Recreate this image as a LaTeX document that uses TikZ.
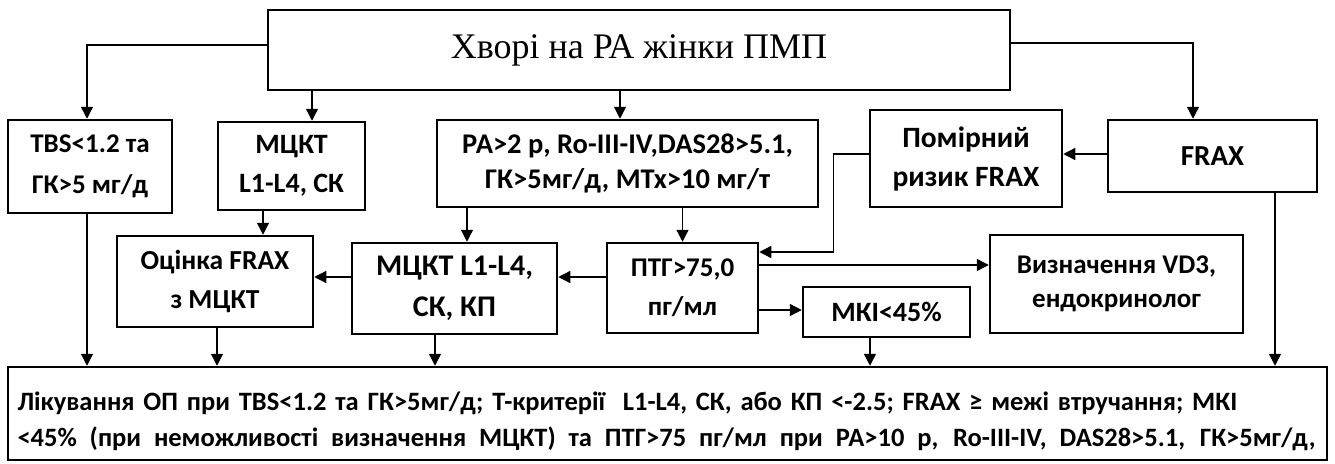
\documentclass[tikz,border=0pt]{standalone}
\usepackage{fontspec}
\setmainfont{Liberation Serif}
\newfontfamily\boxfont{Carlito}
\usetikzlibrary{arrows.meta}
\tikzset{
  box/.style={draw, line width=2.5pt, inner sep=0pt, align=center, font=\boxfont\bfseries\fontsize{28}{39}\selectfont},
  arr/.style={line width=1.3pt, -{Triangle[width=12pt,length=12pt]}}
}
\begin{document}
\begin{tikzpicture}[x=1pt,y=-1pt]
\useasboundingbox (0,0) rectangle (1335,463);
\node[box, minimum width=742pt, minimum height=80pt, font=\fontsize{36}{40}\selectfont] (top) at (639,50) {\raisebox{6pt}{Хворі на РА жінки ПМП}};
\node[box, minimum width=164pt, minimum height=93pt, font=\boxfont\bfseries\fontsize{27}{41}\selectfont] (tbs) at (90,166.5) {TBS<1.2 та\\ГК>5 мг/д};
\node[box, minimum width=147pt, minimum height=88pt] (mck1) at (291.5,166) {МЦКТ\\L1-L4, СК};
\node[box, minimum width=381pt, minimum height=87pt, font=\boxfont\bfseries\fontsize{28.5}{35}\selectfont] (ra) at (627.5,163.5) {РА>2 р, Ro-III-IV,DAS28>5.1,\\ГК>5мг/д, МТх>10 мг/т};
\node[box, minimum width=192pt, minimum height=97pt, font=\boxfont\bfseries\fontsize{29.5}{39}\selectfont] (pom) at (966,158.5) {Помірний\\ризик FRAX};
\node[box, minimum width=209pt, minimum height=72pt, font=\boxfont\bfseries\fontsize{29}{39}\selectfont] (frax) at (1212.5,156) {FRAX};
\node[box, minimum width=196pt, minimum height=91pt, font=\boxfont\bfseries\fontsize{27.5}{39}\selectfont] (ocin) at (215,281.5) {Оцінка FRAX\\з МЦКТ};
\node[box, minimum width=205pt, minimum height=91pt, font=\boxfont\bfseries\fontsize{30}{41}\selectfont] (mck2) at (454.5,288.5) {МЦКТ L1-L4,\\СК, КП};
\node[box, minimum width=151pt, minimum height=90pt, font=\boxfont\bfseries\fontsize{27}{39}\selectfont] (ptg) at (682.5,288) {ПТГ>75,0\\пг/мл};
\node[box, minimum width=167pt, minimum height=50pt] (mki) at (886.5,312) {МКІ<45\%};
\node[box, minimum width=253pt, minimum height=98pt, font=\boxfont\bfseries\fontsize{27}{34}\selectfont] (viz) at (1116.5,284) {Визначення VD3,\\ендокринолог};
\node[box, minimum width=1319pt, minimum height=93pt, align=left, text width=1300pt, font=\boxfont\bfseries\fontsize{26.5}{36}\selectfont] (bot) at (667.5,413.5) {\rule{0pt}{34pt}Лікування ОП при TBS<1.2 та ГК>5мг/д; Т-критерії\ \ L1-L4, СК, або КП <-2.5; FRAX ≥ межі втручання; МКІ\\\hbox to 1298pt{\spaceskip=0.22em plus 1fill\relax <45\% (при неможливості визначення МЦКТ) та ПТГ>75 пг/мл при РА>10 р, Ro-III-IV, DAS28>5.1, ГК>5мг/д,}};
% helper coordinates
\coordinate (c1) at ([yshift=11.5pt]mck2.west);
\coordinate (c2) at ([yshift=11pt]ptg.west);
\coordinate (c3) at ([yshift=23pt]ptg.east);
\coordinate (c4) at ([yshift=-22pt]ptg.east);
\coordinate (c5) at ([yshift=2pt]frax.west);
% connectors
\draw[arr] ([yshift=5pt]top.west) -| ([xshift=-3pt]tbs.north);
\draw[arr] ([xshift=20.5pt]mck1.north |- top.south) -- ([xshift=20.5pt]mck1.north);
\draw[arr] ([xshift=-7.5pt]ra.north |- top.south) -- ([xshift=-7.5pt]ra.north);
\draw[arr] ([yshift=7pt]top.east) -| ([xshift=-19.5pt]frax.north);
\draw[arr] (c5) -- (pom.east |- c5);
\draw[arr] ([yshift=4.5pt]pom.west) -- ++(-35pt,0) |- ([yshift=36pt]ptg.east);
\draw[arr] ([xshift=12.5pt]mck2.north |- ra.south) -- ([xshift=12.5pt]mck2.north);
\draw[arr] (ptg.north |- ra.south) -- (ptg.north);
\draw[arr] ([xshift=48pt]ocin.north |- mck1.south) -- ([xshift=48pt]ocin.north);
\draw[arr] (c1) -- (ocin.east |- c1);
\draw[arr] (c2) -- (mck2.east |- c2);
\draw[arr] (c3) -- (viz.west |- c3);
\draw[arr] (c4) -- (mki.west |- c4);
\draw[arr] ([xshift=62.5pt]frax.south) -- ([xshift=62.5pt]frax.south |- bot.north);
\draw[arr] ([xshift=-3pt]tbs.south) -- ([xshift=-3pt]tbs.south |- bot.north);
\draw[arr] ([xshift=2pt]ocin.south) -- ([xshift=2pt]ocin.south |- bot.north);
\draw[arr] ([xshift=-19.5pt]mck2.south) -- ([xshift=-19.5pt]mck2.south |- bot.north);
\draw[arr] ([xshift=-16.5pt]mki.south) -- ([xshift=-16.5pt]mki.south |- bot.north);
\end{tikzpicture}
\end{document}
